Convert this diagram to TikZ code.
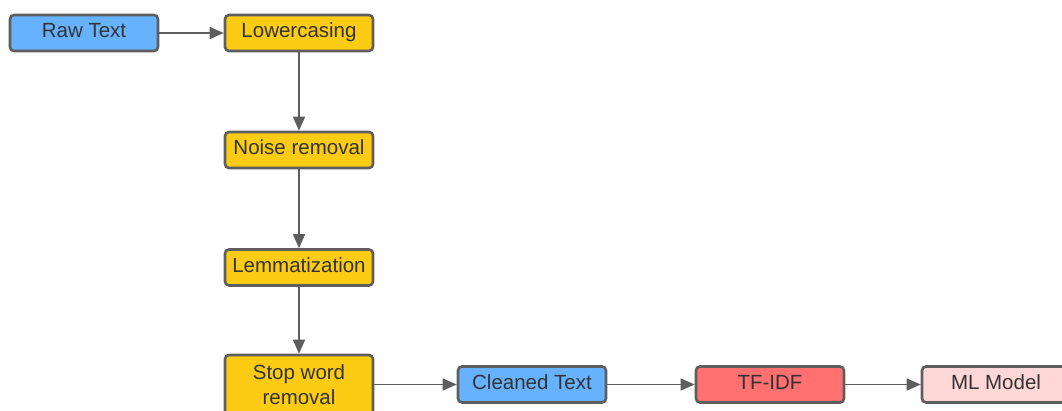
\documentclass[tikz,border=0pt]{standalone}
\usepackage{fontspec}
\setmainfont{Liberation Sans}
\usetikzlibrary{arrows.meta}
\definecolor{bl}{HTML}{66B2FF}
\definecolor{yl}{HTML}{FCCB14}
\definecolor{rd}{HTML}{FF7070}
\definecolor{pk}{HTML}{FFD7D7}
\definecolor{bd}{HTML}{5E5E5E}
\definecolor{tx}{HTML}{333333}
\begin{document}
\begin{tikzpicture}[x=1pt,y=-1pt,
 box/.style={draw=bd, line width=2.6pt, rounded corners=4pt, minimum width=148pt, minimum height=36pt, inner sep=0pt, text=tx, font=\fontsize{20.5}{25}\selectfont, align=center},
 one/.style={text height=13pt, text depth=4pt},
 arr/.style={draw=bd, line width=1.6pt, -{Triangle[length=14pt,width=12pt]}}]
\useasboundingbox (0,0) rectangle (1062,410);
\node[box, one, fill=bl] (raw) at (84,33) {Raw Text};
\node[box, one, fill=yl] (low) at (299,33) {Lowercasing};
\node[box, one, fill=yl] (noise) at (299,150) {Noise removal};
\node[box, one, fill=yl] (lem) at (299,267.5) {Lemmatization};
\node[box, fill=yl, minimum height=60pt] (stop) at (299,385) {Stop word\\removal};
\node[box, one, fill=bl] (clean) at (532,384.5) {Cleaned Text};
\node[box, one, fill=rd] (tfidf) at (770,384.5) {TF-IDF};
\node[box, one, fill=pk] (ml) at (996,384.5) {ML Model};
\draw[arr] (raw) -- (low);
\draw[arr] (low) -- (noise);
\draw[arr] (noise) -- (lem);
\draw[arr] (lem) -- (stop);
\draw[arr] (stop.east |- clean) -- (clean);
\draw[arr] (clean) -- (tfidf);
\draw[arr] (tfidf) -- (ml);
\end{tikzpicture}
\end{document}
